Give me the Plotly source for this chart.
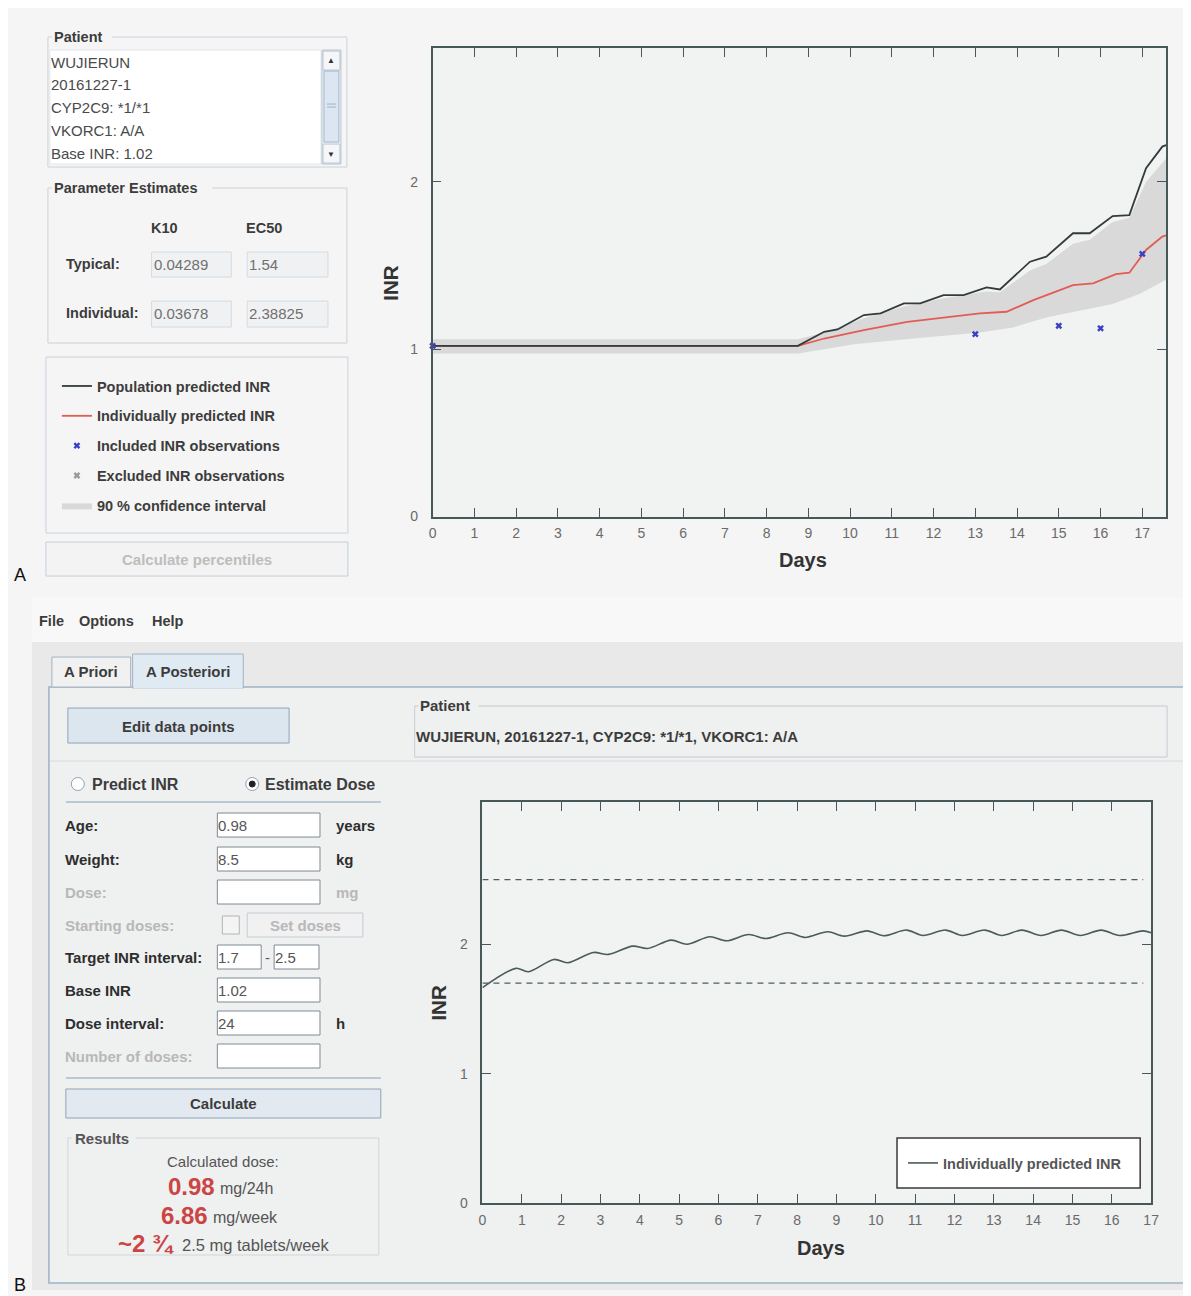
import plotly.graph_objects as go

# ---------------- data ----------------
# Panel A (population vs individual prediction)
days_pop = [0, 8.75, 9.38, 9.70, 10.33, 10.73, 11.29, 11.68, 12.24, 12.72, 13.27, 13.59,
            14.31, 14.70, 15.34, 15.74, 16.29, 16.69, 17.09, 17.48, 17.57]
inr_pop = [1.02, 1.02, 1.104, 1.118, 1.204, 1.214, 1.274, 1.274, 1.323, 1.323, 1.369, 1.357,
           1.523, 1.553, 1.693, 1.693, 1.796, 1.802, 2.082, 2.211, 2.22]

days_ind = [0, 8.75, 9.38, 10.33, 11.37, 12.32, 13.11, 13.75, 14.39, 15.34, 15.82, 16.37,
            16.69, 17.09, 17.48, 17.57]
inr_ind = [1.02, 1.02, 1.064, 1.114, 1.164, 1.19, 1.214, 1.224, 1.293, 1.383, 1.393, 1.449,
           1.457, 1.593, 1.673, 1.68]

ci_upper_days = [0, 8.75, 9.38, 10.33, 11.29, 12.24, 13.27, 13.59, 14.31, 14.70, 15.34, 15.74,
                 16.29, 16.69, 17.09, 17.57]
ci_upper = [1.06, 1.06, 1.10, 1.185, 1.255, 1.305, 1.345, 1.34, 1.47, 1.51, 1.63, 1.655,
            1.76, 1.785, 2.0, 2.14]
ci_lower_days = [0, 8.75, 10.1, 11.52, 13.11, 13.9, 14.7, 15.5, 16.29, 16.93, 17.57]
ci_lower = [0.975, 0.975, 1.03, 1.064, 1.10, 1.13, 1.19, 1.23, 1.27, 1.33, 1.415]

obs_days = [0, 13, 15, 16, 17]
obs_inr = [1.02, 1.09, 1.14, 1.125, 1.57]

# Panel B (a posteriori dose estimate)
days_b = [0, 0.85, 1.17, 1.82, 2.17, 2.82, 3.2, 3.82, 4.2, 4.8, 5.2, 5.78, 6.2, 6.77, 7.2,
          7.77, 8.2, 8.78, 9.2, 9.78, 10.2, 10.78, 11.2, 11.77, 12.2, 12.77, 13.2, 13.72,
          14.2, 14.72, 15.2, 15.73, 16.2, 16.79, 17.0]
inr_b = [1.665, 1.814, 1.788, 1.883, 1.857, 1.937, 1.922, 1.986, 1.968, 2.032, 2.0, 2.058,
         2.027, 2.076, 2.045, 2.089, 2.053, 2.097, 2.063, 2.104, 2.066, 2.11, 2.068, 2.11,
         2.068, 2.11, 2.068, 2.11, 2.068, 2.11, 2.068, 2.11, 2.068, 2.104, 2.09]
target_low = 1.7
target_high = 2.5
target_days = [0, 16.8]

x_ticks = list(range(0, 18))
y_ticks_a = [0, 1, 2]
y_ticks_b = [0, 1, 2]

# ---------------- helpers ----------------
W, H = 1191, 1296
OFF = 8
SX = 1199 / 1191
SY = 1304 / 1296
FONT = "Liberation Sans, Arial, sans-serif"


def px(x):
    return (x * SX - OFF) / W


def py(y):
    return 1 - (y * SY - OFF) / H


shapes = []
annotations = []


def rect(x0, y0, x1, y1, fill=None, line=None, lw=1, layer="below"):
    shapes.append(dict(type="rect", xref="paper", yref="paper",
                       x0=px(x0), x1=px(x1), y0=py(y1), y1=py(y0),
                       fillcolor=fill if fill else "rgba(0,0,0,0)",
                       line=dict(color=line if line else "rgba(0,0,0,0)", width=lw if line else 0),
                       layer=layer))


def seg(x0, y0, x1, y1, color, lw=1, layer="below"):
    shapes.append(dict(type="line", xref="paper", yref="paper",
                       x0=px(x0), x1=px(x1), y0=py(y0), y1=py(y1),
                       line=dict(color=color, width=lw), layer=layer))


def circle(cx, cy, r, fill, line, lw=1):
    shapes.append(dict(type="circle", xref="paper", yref="paper",
                       x0=px(cx - r), x1=px(cx + r), y0=py(cy + r), y1=py(cy - r),
                       fillcolor=fill, line=dict(color=line, width=lw), layer="below"))


def txt(x, y, s, size=13, color="#333333", bold=False, anchor="left"):
    if anchor == "left":
        x -= 3
    elif anchor == "right":
        x += 3
    annotations.append(dict(x=px(x), y=py(y), xref="paper", yref="paper",
                            text=("<b>%s</b>" % s) if bold else s, showarrow=False,
                            xanchor=anchor, yanchor="middle",
                            font=dict(size=size, color=color, family=FONT)))


def group(x0, y0, x1, y1, title_end=None, color="#c9d3dc"):
    if title_end is None:
        seg(x0, y0, x1, y0, color)
    else:
        seg(x0, y0, x0 + 4, y0, color)
        seg(title_end, y0, x1, y0, color)
    seg(x0, y0, x0, y1, color)
    seg(x1, y0, x1, y1, color)
    seg(x0, y1, x1, y1, color)


DARK = "#3c3c3c"

# ---------------- UI backgrounds ----------------
rect(28, 598, 1191, 642, fill="#f8f8f8")
rect(28, 642, 1191, 1290, fill="#e9e9e9")
rect(45, 687, 1190, 1283, fill="#eff0f0", line="#9db2c6", lw=1.5)
rect(48, 657, 127, 687, fill="#f1f1f1", line="#a5b4c3")
rect(129, 654, 240, 688, fill="#e0eaf3", line="#9db2c6")
seg(130, 687.5, 239, 687.5, "#e0eaf3", lw=2)

rect(430, 48, 1166, 516.5, fill="#f1f2f2")
rect(480, 802, 1151, 1203, fill="#f1f2f2")

# ---------------- Panel A left UI ----------------
group(44, 37, 344, 167, title_end=108)
txt(51, 37, "Patient", 14.5, DARK, True)
rect(46, 50, 318, 164, fill="#ffffff", line="#e3e8ee")
rect(319, 50, 338, 164, fill="#f3f5f8", line="#b8c4d0")
rect(320, 51, 337, 70, fill="#f4f6f9", line="#b8c4d0")
rect(320, 144, 337, 163, fill="#f4f6f9", line="#b8c4d0")
rect(321, 71, 336, 142, fill="#dbe6f2", line="#9fb5cc")
txt(328.5, 60, "▲", 8, "#333333", anchor="center")
txt(328.5, 154, "▼", 8, "#333333", anchor="center")
seg(324, 104, 333, 104, "#9fb5cc")
seg(324, 107, 333, 107, "#9fb5cc")
patient_lines = ["WUJIERUN", "20161227-1", "CYP2C9: *1/*1", "VKORC1: A/A", "Base INR: 1.02"]
for i, s in enumerate(patient_lines):
    txt(48, 62 + i * 22.8, s, 15, "#4a4a4a")

group(44, 188, 344, 343, title_end=209)
txt(51, 188, "Parameter Estimates", 14.5, DARK, True)
txt(148, 228, "K10", 14.5, DARK, True)
txt(244, 228, "EC50", 14.5, DARK, True)
txt(63, 264, "Typical:", 14.5, DARK, True)
txt(63, 313, "Individual:", 14.5, DARK, True)
rect(148, 252, 228, 277, fill="#f0f1f2", line="#d3dbe3")
rect(244, 252, 325, 277, fill="#f0f1f2", line="#d3dbe3")
rect(148, 301, 228, 327, fill="#f0f1f2", line="#d3dbe3")
rect(244, 301, 325, 327, fill="#f0f1f2", line="#d3dbe3")
txt(151, 264, "0.04289", 15, "#707070")
txt(247, 264, "1.54", 15, "#707070")
txt(151, 313, "0.03678", 15, "#707070")
txt(247, 313, "2.38825", 15, "#707070")

group(42, 357, 345, 533)
rect(42, 542, 345, 576, fill="#f3f3f3", line="#c3cfdb")
txt(193.5, 559, "Calculate percentiles", 15, "#bdbdbd", True, "center")

txt(11, 575, "A", 18, "#111111")
txt(11, 1285, "B", 18, "#111111")

annotations.append(dict(x=px(387), y=py(283), xref="paper", yref="paper", text="<b>INR</b>",
                        showarrow=False, textangle=-90, xanchor="center", yanchor="middle",
                        font=dict(size=20.5, color="#333333", family=FONT)))
txt(802, 560, "Days", 20, "#333333", True, "center")

# ---------------- Panel B UI ----------------
txt(36, 621, "File", 14.5, DARK, True)
txt(76, 621, "Options", 14.5, DARK, True)
txt(149, 621, "Help", 14.5, DARK, True)
txt(87.5, 671, "A Priori", 15, DARK, True, "center")
txt(184.5, 671, "A Posteriori", 15, DARK, True, "center")

rect(64, 708, 286, 743, fill="#dce6ef", line="#8ea4ba")
txt(175, 726, "Edit data points", 15, DARK, True, "center")

group(412, 706, 1167, 757, title_end=476, color="#c4ccd4")
txt(418, 705, "Patient", 15, DARK, True)
txt(414, 736, "WUJIERUN, 20161227-1, CYP2C9: *1/*1, VKORC1: A/A", 15, DARK, True)
seg(46, 761, 1189, 761, "#d6dadd")

circle(74, 784, 6.5, "#ffffff", "#8fa2b6")
circle(249, 784, 6.5, "#ffffff", "#8fa2b6")
circle(249, 784, 3, "#222222", "#222222")
txt(89, 784, "Predict INR", 16, DARK, True)
txt(263, 784, "Estimate Dose", 16, DARK, True)
seg(62, 802, 378, 802, "#a8bacb", lw=1.5)

label_dark = "#2e2e2e"
label_gray = "#b8b8b8"
rows = [
    ("Age:", 825, label_dark, "0.98", "years", label_dark),
    ("Weight:", 859, label_dark, "8.5", "kg", label_dark),
    ("Dose:", 892, label_gray, "", "mg", label_gray),
    ("Base INR", 990, label_dark, "1.02", "", label_dark),
    ("Dose interval:", 1023, label_dark, "24", "h", label_dark),
    ("Number of doses:", 1056, label_gray, "", "", label_gray),
]
for lab, yy, col, val, unit, ucol in rows:
    txt(62, yy, lab, 15, col, True)
    rect(214, yy - 12, 317, yy + 12, fill="#ffffff", line="#7d8a96")
    if val:
        txt(216, yy, val, 15, "#555555")
    if unit:
        txt(334, yy, unit, 15, ucol, True)

txt(62, 925, "Starting doses:", 15, label_gray, True)
rect(219, 916, 236, 934, fill="#f4f4f4", line="#b4b4b4")
rect(244, 913, 360, 937, fill="#f1f1f1", line="#c4ccd4")
txt(302, 925, "Set doses", 15, label_gray, True, "center")

txt(62, 957, "Target INR interval:", 15, label_dark, True)
rect(214, 945, 258, 969, fill="#ffffff", line="#7d8a96")
rect(271, 945, 316, 969, fill="#ffffff", line="#7d8a96")
txt(216, 957, "1.7", 15, "#555555")
txt(273, 957, "2.5", 15, "#555555")
txt(264.5, 957, "-", 15, "#555555", anchor="center")

seg(62, 1078, 378, 1078, "#a8bacb", lw=1.5)
rect(62, 1089, 378, 1118, fill="#e2e9f0", line="#8ea4ba")
txt(220, 1103, "Calculate", 15, DARK, True, "center")

group(64, 1138, 376, 1255, title_end=132, color="#d0d6dc")
txt(72, 1138, "Results", 15, "#555555", True)
txt(220, 1161, "Calculated dose:", 15, "#555555", anchor="center")
txt(211, 1186, "0.98", 24, "#cc4444", True, "right")
txt(218, 1188, "mg/24h", 16, "#555555")
txt(204, 1215, "6.86", 24, "#cc4444", True, "right")
txt(211, 1217, "mg/week", 16, "#555555")
txt(170, 1243, "~2 ¾", 24, "#cc4444", True, "right")
txt(180, 1245, "2.5 mg tablets/week", 16.5, "#555555")

annotations.append(dict(x=px(435), y=py(1003), xref="paper", yref="paper", text="<b>INR</b>",
                        showarrow=False, textangle=-90, xanchor="center", yanchor="middle",
                        font=dict(size=20.5, color="#333333", family=FONT)))
txt(820, 1248, "Days", 20, "#333333", True, "center")

rect(896, 1138, 1140, 1188, fill="#ffffff", line="#3a3a3a", lw=1.5, layer="above")

# ---------------- traces ----------------
fig = go.Figure()

band_x = ci_upper_days + ci_lower_days[::-1]
band_y = ci_upper + ci_lower[::-1]
fig.add_trace(go.Scatter(x=band_x, y=band_y, fill="toself", fillcolor="#d9d9d9",
                         line=dict(width=0, color="#d9d9d9"), mode="lines",
                         name="<b>90 % confidence interval</b>", legend="legend",
                         legendgroup="e", legendrank=5, xaxis="x", yaxis="y",
                         hoverinfo="skip"))
fig.add_trace(go.Scatter(x=days_ind, y=inr_ind, mode="lines",
                         line=dict(color="#e35b55", width=1.8),
                         name="<b>Individually predicted INR</b>", legend="legend",
                         legendgroup="b", legendrank=2, xaxis="x", yaxis="y"))
fig.add_trace(go.Scatter(x=days_pop, y=inr_pop, mode="lines",
                         line=dict(color="#333b3b", width=1.8),
                         name="<b>Population predicted INR</b>", legend="legend",
                         legendgroup="a", legendrank=1, xaxis="x", yaxis="y"))
fig.add_trace(go.Scatter(x=obs_days, y=obs_inr, mode="markers",
                         marker=dict(symbol="x", size=6, color="#3b3fc4"),
                         name="<b>Included INR observations</b>", legend="legend",
                         legendgroup="c", legendrank=3, cliponaxis=False,
                         xaxis="x", yaxis="y"))
fig.add_trace(go.Scatter(x=[None], y=[None], mode="markers",
                         marker=dict(symbol="x", size=6, color="#9a9a9a"),
                         name="<b>Excluded INR observations</b>", legend="legend",
                         legendgroup="d", legendrank=4, xaxis="x", yaxis="y"))

fig.add_trace(go.Scatter(x=target_days, y=[target_high, target_high], mode="lines",
                         line=dict(color="#4b5d5d", width=1.4, dash="6px,5px"),
                         showlegend=False, xaxis="x2", yaxis="y2"))
fig.add_trace(go.Scatter(x=target_days, y=[target_low, target_low], mode="lines",
                         line=dict(color="#4b5d5d", width=1.4, dash="6px,5px"),
                         showlegend=False, xaxis="x2", yaxis="y2"))
fig.add_trace(go.Scatter(x=days_b, y=inr_b, mode="lines",
                         line=dict(color="#4b5a5a", width=1.6, shape="spline", smoothing=0.9),
                         name="<b>Individually predicted INR</b>", legend="legend2",
                         xaxis="x2", yaxis="y2"))

axis_common = dict(showline=True, linecolor="#465858", linewidth=1.5, mirror="ticks",
                   ticks="inside", ticklen=9, tickwidth=1.3, tickcolor="#465858",
                   showgrid=False, zeroline=False,
                   tickfont=dict(size=14, color="#6a6a6a", family=FONT))

fig.update_layout(
    width=W, height=H, autosize=False,
    margin=dict(l=0, r=0, t=0, b=0),
    paper_bgcolor="#f5f5f5", plot_bgcolor="#f1f2f2",
    font=dict(family=FONT),
    xaxis=dict(domain=[px(430), px(1166)], range=[0, 17.57], tickvals=x_ticks,
               anchor="y", ticklabelstandoff=3, **axis_common),
    yaxis=dict(domain=[py(516.5), py(48)], range=[0, 2.8], tickvals=y_ticks_a,
               anchor="x", ticklabelstandoff=10, **axis_common),
    xaxis2=dict(domain=[px(480), px(1151)], range=[0, 17.0], tickvals=x_ticks,
                anchor="y2", ticklabelstandoff=3, **axis_common),
    yaxis2=dict(domain=[py(1203), py(802)], range=[0, 3.1], tickvals=y_ticks_b,
                anchor="x2", ticklabelstandoff=10, **axis_common),
    legend=dict(x=px(53), y=py(370), xanchor="left", yanchor="top",
                bgcolor="rgba(0,0,0,0)", borderwidth=0, traceorder="grouped",
                tracegroupgap=8, font=dict(size=14.5, color=DARK, family=FONT)),
    legend2=dict(x=px(902), y=py(1163), xanchor="left", yanchor="middle",
                 bgcolor="rgba(0,0,0,0)", borderwidth=0,
                 font=dict(size=14.5, color="#555555", family=FONT)),
    shapes=shapes,
    annotations=annotations,
    showlegend=True,
)

fig.write_html("out.html", config={"displayModeBar": False})
